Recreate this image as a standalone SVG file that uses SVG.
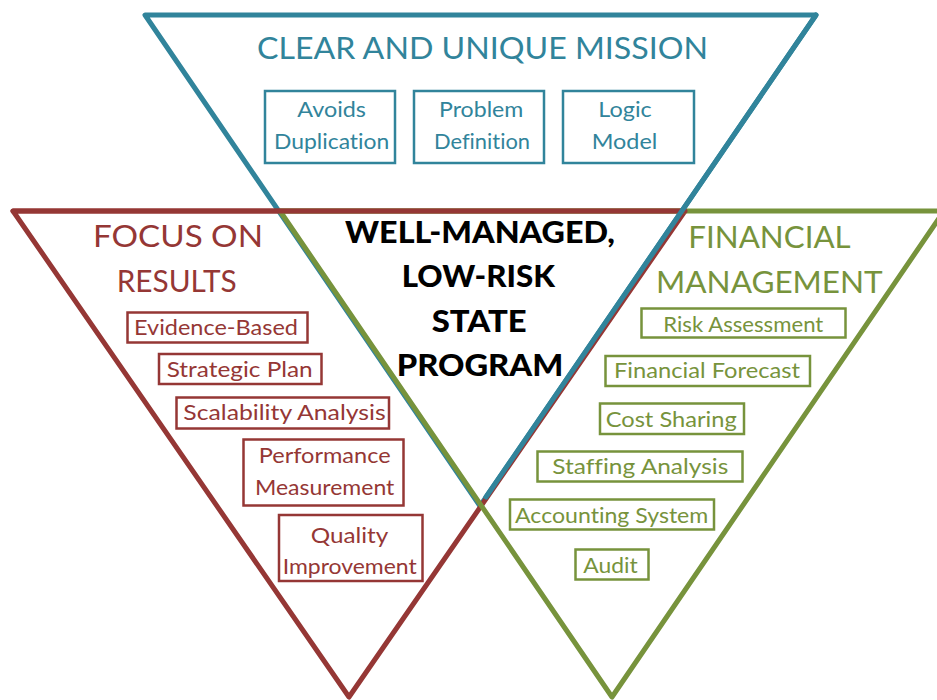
<svg xmlns="http://www.w3.org/2000/svg" width="937" height="700" viewBox="0 0 937 700">
<style>
.tri{fill:none;stroke-width:5;stroke-linejoin:round;stroke-linecap:round}
.bl{stroke:#31849B}.rd{stroke:#953735}.gr{stroke:#77933C}
.box{fill:none;stroke-width:2.5}
text{font-variant-ligatures:none}
.t{font-family:Lato,"Liberation Sans",sans-serif;font-size:22px}
.h{font-family:Lato,"Liberation Sans",sans-serif;font-size:30px}
.c{font-family:Lato,"Liberation Sans",sans-serif;font-size:30px;font-weight:900;fill:#000}
.fb{fill:#31849B}.fr{fill:#953735}.fg{fill:#77933C}
</style>
<rect width="937" height="700" fill="#fff"/>
<g id="connectors">
<polygon id="tri-mission" class="tri bl" points="145,15 816,15 480,506"/>
<polygon id="tri-results" class="tri rd" points="13,211 685,211 349,697"/>
<polygon id="tri-financial" class="tri gr" points="280,211 944,211 612,697"/>
<line class="tri rd" x1="13" y1="211" x2="685" y2="211"/>
<line class="tri bl" x1="816" y1="15" x2="486" y2="497"/>
</g>
<g id="mission">
<text class="h fb" x="257" y="59.3" font-size="31" textLength="451" lengthAdjust="spacingAndGlyphs">CLEAR AND UNIQUE MISSION</text>
</g>
<g id="box-avoids">
<rect class="box bl" x="265" y="91" width="130" height="72"/>
<text class="t fb" x="297.3" y="117.3" textLength="68.7" lengthAdjust="spacingAndGlyphs">Avoids</text>
<text class="t fb" x="274" y="149.3" textLength="115.3" lengthAdjust="spacingAndGlyphs">Duplication</text>
</g>
<g id="box-problem">
<rect class="box bl" x="414" y="91" width="130" height="72"/>
<text class="t fb" x="439" y="117.3" textLength="84.3" lengthAdjust="spacingAndGlyphs">Problem</text>
<text class="t fb" x="434" y="149.3" textLength="96" lengthAdjust="spacingAndGlyphs">Definition</text>
</g>
<g id="box-logic">
<rect class="box bl" x="563" y="91" width="131" height="72"/>
<text class="t fb" x="598.3" y="117.3" textLength="53.4" lengthAdjust="spacingAndGlyphs">Logic</text>
<text class="t fb" x="591.7" y="149.3" textLength="65.6" lengthAdjust="spacingAndGlyphs">Model</text>
</g>
<g id="center">
<text class="c" x="345" y="243.3" textLength="270" lengthAdjust="spacingAndGlyphs">WELL-MANAGED,</text>
<text class="c" x="401.7" y="287.3" textLength="153.3" lengthAdjust="spacingAndGlyphs">LOW-RISK</text>
<text class="c" x="431.7" y="331.7" textLength="95" lengthAdjust="spacingAndGlyphs">STATE</text>
<text class="c" x="396.7" y="375.7" textLength="166.6" lengthAdjust="spacingAndGlyphs">PROGRAM</text>
</g>
<g id="results">
<text class="h fr" x="93" y="247" textLength="170" lengthAdjust="spacingAndGlyphs">FOCUS ON</text>
<text class="h fr" x="116.7" y="292" textLength="120" lengthAdjust="spacingAndGlyphs">RESULTS</text>
</g>
<g id="box-evidence">
<rect class="box rd" x="127.5" y="312.5" width="180" height="30"/>
<text class="t fr" x="134" y="335" textLength="164" lengthAdjust="spacingAndGlyphs">Evidence-Based</text>
</g>
<g id="box-strategic">
<rect class="box rd" x="159" y="354" width="162.5" height="30"/>
<text class="t fr" x="166.7" y="376.7" textLength="146" lengthAdjust="spacingAndGlyphs">Strategic Plan</text>
</g>
<g id="box-scalability">
<rect class="box rd" x="176.5" y="397.5" width="212.5" height="31"/>
<text class="t fr" x="183.3" y="420" textLength="202.4" lengthAdjust="spacingAndGlyphs">Scalability Analysis</text>
</g>
<g id="box-performance">
<rect class="box rd" x="243.5" y="439.5" width="160" height="66"/>
<text class="t fr" x="258.7" y="463.3" textLength="132" lengthAdjust="spacingAndGlyphs">Performance</text>
<text class="t fr" x="255" y="495" textLength="139.3" lengthAdjust="spacingAndGlyphs">Measurement</text>
</g>
<g id="box-quality">
<rect class="box rd" x="279" y="515" width="143.5" height="66"/>
<text class="t fr" x="310.7" y="543.3" textLength="77.6" lengthAdjust="spacingAndGlyphs">Quality</text>
<text class="t fr" x="282.7" y="574" textLength="134" lengthAdjust="spacingAndGlyphs">Improvement</text>
</g>
<g id="financial">
<text class="h fg" x="688.3" y="248.3" textLength="162.4" lengthAdjust="spacingAndGlyphs">FINANCIAL</text>
<text class="h fg" x="656" y="293.3" textLength="226.7" lengthAdjust="spacingAndGlyphs">MANAGEMENT</text>
</g>
<g id="box-risk">
<rect class="box gr" x="641.5" y="308.5" width="204" height="29"/>
<text class="t fg" x="663.3" y="331.7" textLength="160" lengthAdjust="spacingAndGlyphs">Risk Assessment</text>
</g>
<g id="box-forecast">
<rect class="box gr" x="605.5" y="356" width="204.5" height="30"/>
<text class="t fg" x="614" y="378.3" textLength="186" lengthAdjust="spacingAndGlyphs">Financial Forecast</text>
</g>
<g id="box-cost">
<rect class="box gr" x="600" y="403.5" width="144" height="30.5"/>
<text class="t fg" x="605.7" y="426.7" textLength="131" lengthAdjust="spacingAndGlyphs">Cost Sharing</text>
</g>
<g id="box-staffing">
<rect class="box gr" x="537.5" y="451.5" width="205" height="30"/>
<text class="t fg" x="552.3" y="474.3" textLength="176" lengthAdjust="spacingAndGlyphs">Staffing Analysis</text>
</g>
<g id="box-accounting">
<rect class="box gr" x="510" y="499.5" width="204" height="30"/>
<text class="t fg" x="515" y="523.3" textLength="193.3" lengthAdjust="spacingAndGlyphs">Accounting System</text>
</g>
<g id="box-audit">
<rect class="box gr" x="575.5" y="549.5" width="73" height="30"/>
<text class="t fg" x="583.3" y="572.7" textLength="54.4" lengthAdjust="spacingAndGlyphs">Audit</text>
</g>
</svg>
